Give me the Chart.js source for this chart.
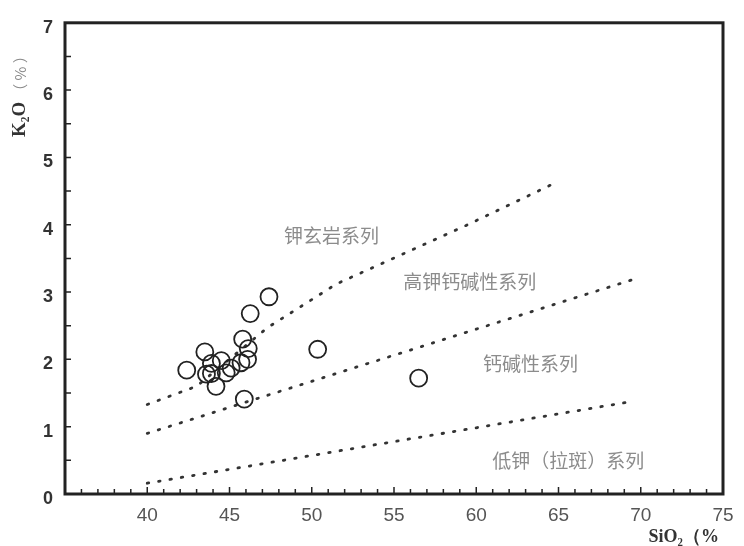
<!DOCTYPE html>
<html lang="zh">
  <head>
    <meta charset="utf-8" />
    <title>K2O - SiO2</title>
    <style>
      * {
        margin: 0;
        padding: 0;
      }
      body {
        background: white;
      }
      .chartBox {
        width: 744px;
        height: 546px;
      }
    </style>
  </head>
  <body>
    <div class="chartBox">
      <canvas id="myChart"></canvas>
    </div>

    <script src="https://cdn.jsdelivr.net/npm/chart.js@4.4.1/dist/chart.umd.min.js"></script>

    <script>
      // sample points
      const siO2 = [47.4, 46.26, 45.8, 46.14, 43.5, 42.4, 44.18, 45.9, 50.36, 56.5,
                    43.9, 44.5, 43.9, 45.1, 45.7, 46.1, 44.8, 43.6];
      const k2O = [2.93, 2.68, 2.3, 2.16, 2.11, 1.84, 1.6, 1.41, 2.15, 1.72,
                   1.94, 1.98, 1.79, 1.87, 1.95, 2.0, 1.8, 1.78];

      // series boundaries
      const shoX = [40, 43, 47.3, 51.5, 59.3, 64.7];
      const shoY = [1.33, 1.6, 2.47, 3.12, 3.98, 4.61];
      const hkX = [40, 69.7];
      const hkY = [0.9, 3.2];
      const lkX = [40, 69.6];
      const lkY = [0.16, 1.38];

      const xLabels = [40, 45, 50, 55, 60, 65, 70, 75];
      const yLabels = [0, 1, 2, 3, 4, 5, 6, 7];

      const seriesNames = ["钾玄岩系列", "高钾钙碱性系列", "钙碱性系列", "低钾（拉斑）系列"];
      const namesAt = [[51.2, 3.84], [59.6, 3.16], [63.3, 1.94], [65.6, 0.5]];

      const toPoints = (xs, ys) => xs.map((x, i) => ({ x: x, y: ys[i] }));

      const boundary = (xs, ys) => ({
        data: toPoints(xs, ys),
        showLine: true,
        pointRadius: 0,
        borderColor: "#333",
        borderWidth: 2.8,
        borderDash: [1.5, 10],
        borderCapStyle: "round",
        fill: false,
      });

      const frame = {
        id: "frame",
        afterDraw(chart) {
          const { ctx, chartArea, scales } = chart;
          const { left, right, top, bottom } = chartArea;
          ctx.save();
          ctx.strokeStyle = "#222";

          // inward tick marks
          ctx.lineWidth = 1.5;
          ctx.beginPath();
          scales.x.ticks.forEach((t) => {
            if (t.value <= 35 || t.value >= 75) return;
            const px = scales.x.getPixelForValue(t.value);
            const len = t.value % 5 === 0 ? 7 : 5;
            ctx.moveTo(px, bottom);
            ctx.lineTo(px, bottom - len);
          });
          scales.y.ticks.forEach((t) => {
            if (t.value <= 0 || t.value >= 7) return;
            const py = scales.y.getPixelForValue(t.value);
            ctx.moveTo(left, py);
            ctx.lineTo(left + 6, py);
          });
          ctx.stroke();

          // box
          ctx.lineWidth = 3;
          ctx.strokeRect(left, top, right - left, bottom - top);

          // series names
          ctx.fillStyle = "#8c8c8c";
          ctx.font = '19px "Noto Sans CJK SC"';
          ctx.textAlign = "center";
          ctx.textBaseline = "middle";
          seriesNames.forEach((name, i) => {
            ctx.fillText(
              name,
              scales.x.getPixelForValue(namesAt[i][0]),
              scales.y.getPixelForValue(namesAt[i][1])
            );
          });

          // axis titles
          ctx.textBaseline = "middle";
          ctx.textAlign = "right";
          ctx.fillStyle = "#333";
          ctx.font = 'bold 18px "Liberation Serif"';
          ctx.fillText("SiO₂（%", right - 4, 537);

          ctx.translate(20, 137);
          ctx.rotate(-Math.PI / 2);
          ctx.textAlign = "left";
          ctx.font = 'bold 19px "Liberation Serif"';
          ctx.fillText("K₂O", 0, 0);
          const w = ctx.measureText("K₂O").width;
          ctx.fillStyle = "#888";
          ctx.font = '15px "Noto Sans CJK SC"';
          ctx.fillText("（ % ）", w + 3, 0);
          ctx.restore();
        },
      };

      const config = {
        type: "scatter",
        data: {
          datasets: [
            {
              data: toPoints(siO2, k2O),
              pointRadius: 8.5,
              pointBorderWidth: 1.8,
              pointBorderColor: "#222",
              pointBackgroundColor: "rgba(0,0,0,0)",
            },
            boundary(shoX, shoY),
            boundary(hkX, hkY),
            boundary(lkX, lkY),
          ],
        },
        options: {
          responsive: true,
          maintainAspectRatio: false,
          animation: false,
          layout: {
            padding: { top: 13, right: 21, left: 0, bottom: 0 },
          },
          plugins: {
            legend: { display: false },
            tooltip: { enabled: false },
          },
          scales: {
            x: {
              type: "linear",
              min: 35,
              max: 75,
              grid: { display: false, drawTicks: false },
              border: { display: false },
              afterFit: (s) => {
                s.height = 52;
              },
              ticks: {
                stepSize: 1,
                autoSkip: false,
                maxRotation: 0,
                padding: 10,
                color: "#555",
                font: { family: "Liberation Sans Narrow, Liberation Sans", size: 19 },
                callback: (v) => (xLabels.includes(v) ? String(v) : ""),
              },
            },
            y: {
              type: "linear",
              min: 0,
              max: 7,
              grid: { display: false, drawTicks: false },
              border: { display: false },
              afterFit: (s) => {
                s.width = 65;
              },
              ticks: {
                stepSize: 0.5,
                autoSkip: false,
                padding: 12,
                labelOffset: 5,
                color: "#333",
                font: { family: "Liberation Sans Narrow, Liberation Sans", size: 18, weight: "bold" },
                callback: (v) => (yLabels.includes(v) ? String(v) : ""),
              },
            },
          },
        },
        plugins: [frame],
      };

      const myChart = new Chart(document.getElementById("myChart"), config);
    </script>
  </body>
</html>
